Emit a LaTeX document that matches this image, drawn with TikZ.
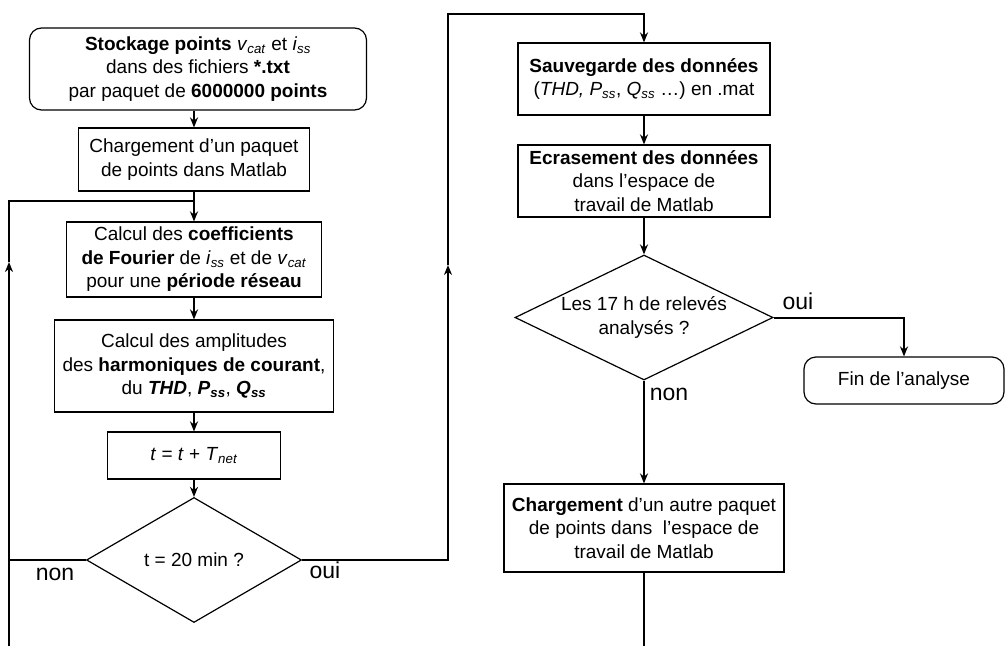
\documentclass[tikz,border=0pt]{standalone}
\usepackage{fontspec}
\setmainfont{Liberation Sans}
\usepackage{tikz}
\usetikzlibrary{shapes.geometric,arrows.meta,calc}
\tikzset{
  >={Stealth[length=10pt,width=8pt]},
}
\newcommand{\ind}[2]{\textit{#1}\textsubscript{\textit{#2}}}

\begin{document}
\begin{tikzpicture}[
x=1pt,y=-1pt,
font=\fontsize{19}{23.5}\selectfont,
box/.style={draw,line width=1.2pt,align=center,inner sep=2pt},
rbox/.style={box,rounded corners=12pt},
decision/.style={draw,diamond,line width=1.2pt,align=center,inner sep=0pt},
link/.style={line width=2pt},
lbl/.style={font=\fontsize{23}{27}\selectfont}
]
\useasboundingbox (0,0) rectangle (1005,646);

% left column
\node[rbox,minimum width=337pt,minimum height=82pt] (stock) at (198,69)
  {\textbf{Stockage points} \ind{v}{cat} et \ind{i}{ss}\\dans des fichiers \textbf{*.txt}\\par paquet de \textbf{6000000 points}};
\node[box,minimum width=231pt,minimum height=63pt] (charg) at (194,159.5)
  {Chargement d’un paquet\\de points dans Matlab};
\node[box,minimum width=255pt,minimum height=75pt] (coef) at (194,259.5)
  {Calcul des \textbf{coefficients}\\\textbf{de Fourier} de \ind{i}{ss} et de \ind{v}{cat}\\pour une \textbf{période réseau}};
\node[box,minimum width=279pt,minimum height=92pt] (ampl) at (194,366)
  {Calcul des amplitudes\\des \textbf{harmoniques de courant},\\du \textbf{\textit{THD}}, \textbf{\ind{P}{ss}}, \textbf{\ind{Q}{ss}}};
\node[box,minimum width=173pt,minimum height=47pt] (tinc) at (194,455.5)
  {\textit{t} = \textit{t} + \ind{T}{net}};
\node[decision,minimum width=215pt,minimum height=125pt,aspect=1.72] (dec1) at (194,560)
  {t = 20 min ?};

% right column
\node[box,minimum width=252pt,minimum height=72pt] (sauv) at (644,79)
  {\textbf{Sauvegarde des données}\\(\textit{THD, }\ind{P}{ss}, \ind{Q}{ss} …) en .mat};
\node[box,minimum width=252pt,minimum height=72pt] (ecras) at (644,181)
  {\textbf{Ecrasement des données}\\dans l’espace de\\travail de Matlab};
\node[decision,minimum width=258pt,minimum height=125pt,aspect=2.06] (dec2) at (644,317.5)
  {Les 17 h de relevés\\analysés ?};
\node[rbox,minimum width=200pt,minimum height=47pt] (fin) at (904,380.5)
  {Fin de l’analyse};
\node[box,minimum width=280pt,minimum height=88pt] (charg2) at (644,528)
  {\textbf{Chargement} d’un autre paquet\\de points dans\ \ l’espace de\\travail de Matlab};

% labels
\node[lbl] (non1) at (55,574) {non};
\node[lbl] (oui1) at (325,570) {oui};
\node[lbl] (oui2) at (798,301) {oui};
\node[lbl] (non2) at (669,394) {non};

% loop points
\coordinate (lbot) at (9,646);
\coordinate (lmid) at (9,262);
\coordinate (ltop) at (9,201);
\coordinate (rmid) at (448,265);
\coordinate (rtop) at (448,14);
\coordinate (fbot) at (644,646);

\draw[link,->] (stock.south -| charg.north) -- (charg.north);
\draw[link,->] (charg.south) -- (coef.north);
\draw[link,->] (coef.south) -- (ampl.north);
\draw[link,->] (ampl.south) -- (tinc.north);
\draw[link,->] (tinc.south) -- (dec1.north);
\draw[link] (dec1.west) -- (dec1.west -| lbot);
\draw[link,->] (lbot) -- (lmid);
\draw[link] (lmid) -- (ltop) -- (ltop -| charg.south);
\draw[link,->] (dec1.east) -| (rmid);
\draw[link,->] (rmid) -- (rtop) -| (sauv.north);
\draw[link,->] (sauv.south) -- (ecras.north);
\draw[link,->] (ecras.south) -- (dec2.north);
\draw[link,->] (dec2.east) -| (fin.north);
\draw[link,->] (dec2.south) -- (charg2.north);
\draw[link] (charg2.south) -- (fbot);
\end{tikzpicture}
\end{document}
